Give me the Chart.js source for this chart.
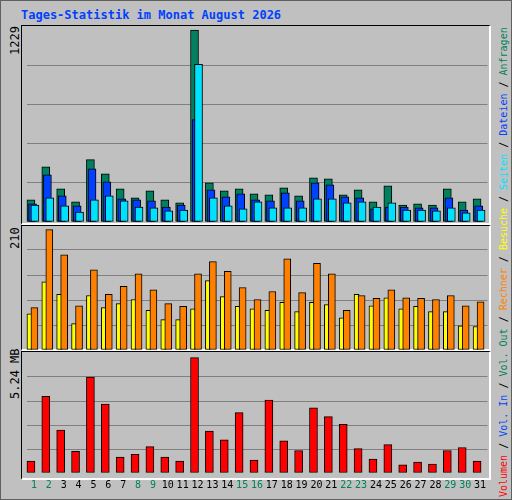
<!DOCTYPE html>
<html><head><meta charset="utf-8">
<script src="https://cdn.jsdelivr.net/npm/chart.js@4"></script>
<style>
body{margin:0;background:#fff;}
#wrap{position:relative;width:510px;height:498px;background:#c0c0c0;border:1px solid #606060;overflow:hidden;font-family:"DejaVu Sans Mono",monospace;}
.panel{position:absolute;left:20px;width:470px;border-top:1px solid #000;border-left:1px solid #000;border-right:2px solid #fff;border-bottom:2px solid #fff;box-sizing:border-box;}
canvas{position:absolute;left:0;}
.rot{position:absolute;transform-origin:0 0;transform:rotate(-90deg);white-space:nowrap;font-size:11px;line-height:11px;}
</style></head><body>
<div id="wrap">
<div style="position:absolute;left:20px;top:7px;color:#0040ff;font-weight:bold;font-size:12px;">Tages-Statistik im Monat August 2026</div>
<div class="panel" style="top:24px;height:200px;"></div>
<div class="panel" style="top:224px;height:126px;"></div>
<div class="panel" style="top:350px;height:129px;"></div>
<div class="rot" style="left:9px;top:54px;font-size:12px;">1229</div>
<div class="rot" style="left:9px;top:248px;font-size:12px;">210</div>
<div class="rot" style="left:9px;top:398px;font-size:12px;">5.24 MB</div>
<div class="rot" style="left:497px;top:496px;font-size:10px;"><span style="color:#ff0000">Volumen</span> / <span style="color:#0040ff">Vol. In</span> / <span style="color:#00805c">Vol. Out</span> / <span style="color:#ff8000">Rechner</span> / <span style="color:#ffff00">Besuche</span> / <span style="color:#00e0ff">Seiten</span> / <span style="color:#0040ff">Dateien</span> / <span style="color:#00805c">Anfragen</span></div>
<canvas id="c1" width="512" height="196" style="top:25px;left:-1px"></canvas>
<canvas id="c2" width="512" height="125" style="top:224px;left:-1px"></canvas>
<canvas id="c3" width="512" height="148" style="top:352px;left:-1px"></canvas>
</div>
<script>
const days=['1','2','3','4','5','6','7','8','9','10','11','12','13','14','15','16','17','18','19','20','21','22','23','24','25','26','27','28','29','30','31'];
const weekend=[1,2,8,9,15,16,22,23,29,30];
const anfragen=[142,354,212,129,399,309,212,154,200,142,122,1229,251,200,212,180,174,219,167,283,277,174,206,129,232,109,116,109,212,129,148];
const dateien=[116,302,167,103,341,257,148,142,135,96,109,656,206,161,180,142,135,187,135,251,238,161,154,84,96,96,90,90,154,77,103];
const seiten=[109,154,103,64,142,167,135,96,90,71,77,1010,154,103,84,129,90,90,90,148,148,122,129,96,122,77,77,71,90,58,77];
const besuche=[63,119,97,46,95,74,81,88,69,53,53,72,121,93,76,72,69,83,67,83,79,56,97,77,91,72,76,67,67,42,41];
const rechner=[74,210,166,77,140,97,111,133,105,81,76,133,154,137,109,88,102,159,100,151,133,69,95,90,105,91,90,88,95,77,84];
const volumen=[0.54,3.48,1.95,0.98,4.36,3.13,0.72,0.85,1.20,0.72,0.54,5.24,1.90,1.51,2.74,0.59,3.31,1.46,1.02,2.96,2.56,2.21,1.11,0.63,1.29,0.37,0.50,0.41,1.02,1.16,0.54];

const shift={id:'shift',
 beforeDatasetDraw(c,a,o){c.ctx.save();c.ctx.translate((o.off||[])[a.index]||0,0);},
 afterDatasetDraw(c){c.ctx.restore();}};
Chart.register(shift);

function mk(id,sets,max,offs,showX){
 new Chart(document.getElementById(id),{type:'bar',
  data:{labels:days,datasets:sets.map((s,i)=>({data:s.d,backgroundColor:s.c,borderColor:'#000',borderWidth:1,borderSkipped:false,barThickness:s.w,grouped:false}))},
  options:{responsive:false,animation:false,
   layout:{padding:{left:26.5,right:24.5,top:0,bottom:showX?4:0}},
   plugins:{legend:{display:false},tooltip:{enabled:false},shift:{off:offs}},
   scales:{
    x:{display:showX,grid:{display:false,drawTicks:false},border:{display:false},
       ticks:{autoSkip:false,maxRotation:0,padding:6,font:{family:'DejaVu Sans Mono',size:10},
       color:ctx=>weekend.includes(ctx.index+1)?'#00805c':'#000'}},
    y:{min:0,max:max,afterFit:s=>{s.width=0;},
       afterBuildTicks:s=>{s.ticks=[0,.2,.4,.6,.8,1].map(f=>({value:f*max}));},
       ticks:{display:false},border:{display:false},
       grid:{drawTicks:false,lineWidth:1,color:ctx=>(ctx.index===0||ctx.index===5)?'rgba(0,0,0,0)':'#808080'}}
   }}});
}
mk('c1',[{d:seiten,c:'#00e0ff',w:8},{d:dateien,c:'#0040ff',w:8},{d:anfragen,c:'#00805c',w:8}],1255,[1,-1.4,-3],false);
mk('c2',[{d:rechner,c:'#ff8000',w:7},{d:besuche,c:'#ffff00',w:5}],218,[0.5,-4.5],false);
mk('c3',[{d:volumen,c:'#ff0000',w:8}],5.45,[-3],true);
</script>
</body></html>
